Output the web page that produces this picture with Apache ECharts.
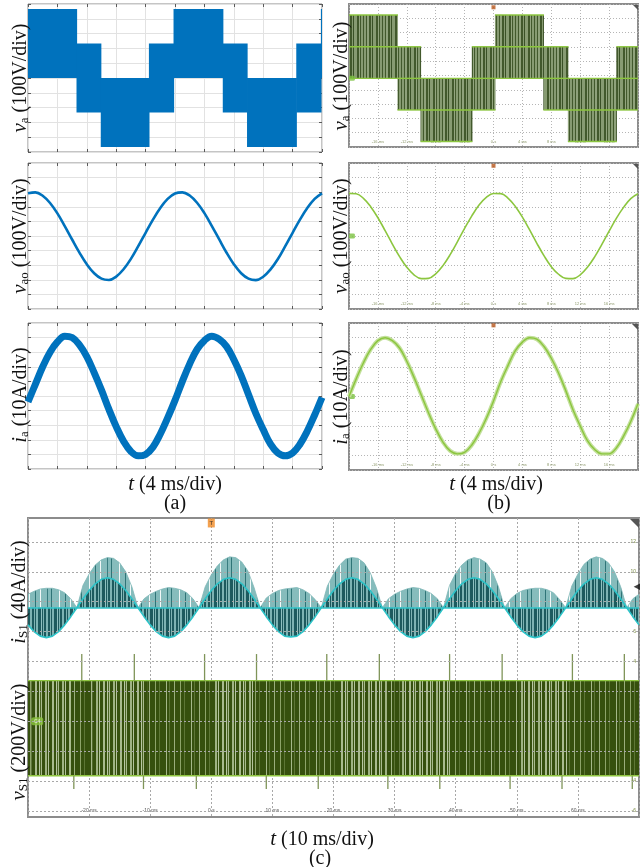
<!DOCTYPE html>
<html lang="en">
<head>
<meta charset="UTF-8" />
<title>Five-level inverter waveforms</title>
<style>
  * { margin: 0; padding: 0; box-sizing: border-box; }
  html, body { background: #fff; }
  #chart { width: 640px; height: 867px; }
</style>
</head>
<body>
<div id="chart"></div>
<script src="https://cdn.jsdelivr.net/npm/echarts@6/dist/echarts.min.js"></script>
<script>
var SERIF = '"Liberation Serif", "DejaVu Serif", serif';

// ---- (a) simulation, t in ms (4 ms/div) ----
var T_A = [0, 1, 2, 3, 4, 5, 6, 7, 8, 9, 10, 11, 12, 13, 14, 15, 16, 17, 18, 19, 20,
  21, 22, 23, 24, 25, 26, 27, 28, 29, 30, 31, 32, 33, 34, 35, 36, 37, 38, 39, 40];
// switching band of v_a: edges (ms), lower / upper level (V)
var VA_A_EDGES = [0, 6.6, 9.9, 16.45, 19.8, 26.5, 29.8, 36.5, 39.85, 40];
var VA_A_LO = [0, -233, -466, -233, 0, -233, -466, -233, 0];
var VA_A_HI = [466, 233, 0, 233, 466, 233, 0, 233, 466];
var VAO_A = [293, 299, 276, 226, 155, 68, -24, -114, -194, -255, -292, -301, -278, -228, -157, -70, 22, 112, 192, 254, 291,
  299, 277, 228, 157, 70, -22, -113, -193, -255, -292, -302, -279, -229, -158, -70, 22, 112, 192, 254, 292];
var IA_A = [-4, 8, 20, 30, 37, 41, 40, 35, 27, 16, 4, -9, -21, -31, -38, -41, -40, -35, -26, -15, -3,
  10, 22, 32, 38, 41, 39, 34, 25, 14, 1, -12, -23, -33, -39, -41, -39, -33, -24, -13, -1];

// ---- (b) experiment, t in ms (4 ms/div) ----
var T_B = [-20, -19, -18, -17, -16, -15, -14, -13, -12, -11, -10, -9, -8, -7, -6, -5, -4, -3, -2, -1, 0,
  1, 2, 3, 4, 5, 6, 7, 8, 9, 10, 11, 12, 13, 14, 15, 16, 17, 18, 19, 20];
var VA_B_EDGES = [-20, -13.3, -10.1, -3.0, 0.2, 6.9, 10.3, 17.0, 20];
var VA_B_LO = [-20, -241, -462, -241, -20, -241, -462, -241];
var VA_B_HI = [423, 201, -20, 201, 423, 201, -20, 201];
var VAO_B = [292, 289, 258, 201, 125, 37, -55, -141, -214, -266, -292, -290, -259, -203, -128, -40, 52, 138, 212, 264, 291,
  290, 260, 204, 129, 42, -50, -136, -210, -262, -290, -292, -266, -214, -143, -58, 33, 121, 196, 256, 289];
var IA_B = [0, 12, 23, 32, 38, 40, 38, 33, 24, 13, 1, -11, -22, -31, -37, -39, -38, -33, -25, -15, -3,
  10, 21, 31, 37, 40, 39, 34, 26, 16, 4, -9, -20, -30, -36, -39, -39, -35, -27, -17, -5];

// ---- (c) switch S1, t in ms (10 ms/div) ----
var T_C = [-30, -29, -28, -27, -26, -25, -24, -23, -22,
  -21, -20, -19, -18, -17, -16, -15, -14, -13, -12,
  -11, -10, -9, -8, -7, -6, -5, -4, -3, -2,
  -1, 0, 1, 2, 3, 4, 5, 6, 7, 8,
  9, 10, 11, 12, 13, 14, 15, 16, 17, 18,
  19, 20, 21, 22, 23, 24, 25, 26, 27, 28,
  29, 30, 31, 32, 33, 34, 35, 36, 37, 38,
  39, 40, 41, 42, 43, 44, 45, 46, 47, 48,
  49, 50, 51, 52, 53, 54, 55, 56, 57, 58,
  59, 60, 61, 62, 63, 64, 65, 66, 67, 68,
  69, 70];
// pulse peaks of i_S1 (A)
var IS1_PEAK = [18, 22, 25, 26, 26, 24, 20, 12, 0,
  30, 45, 57, 64, 67, 66, 60, 48, 28, 0,
  12, 18, 22, 25, 27, 26, 24, 20, 12, 0,
  28, 44, 56, 64, 68, 67, 61, 49, 27, 0,
  13, 19, 23, 25, 26, 27, 24, 19, 11, 0,
  29, 45, 57, 65, 67, 66, 60, 47, 27, 0,
  12, 18, 22, 25, 27, 26, 23, 19, 12, 0,
  30, 46, 57, 64, 67, 65, 60, 48, 28, 0,
  12, 19, 23, 25, 26, 26, 24, 20, 11, 0,
  29, 45, 58, 65, 68, 66, 60, 48, 28, 0,
  12, 18];
// averaged (cyan) trace of i_S1 (A)
var IS1_AVG = [-23, -32, -38, -40, -38, -32, -23, -12, 0,
  12, 23, 32, 38, 40, 38, 32, 23, 12, 0,
  -12, -23, -32, -38, -40, -38, -32, -23, -12, 0,
  12, 23, 32, 38, 40, 38, 32, 23, 12, 0,
  -12, -23, -32, -38, -39, -38, -32, -23, -12, 0,
  12, 23, 32, 38, 40, 38, 32, 23, 12, 0,
  -12, -23, -32, -38, -40, -38, -32, -23, -12, 0,
  12, 23, 32, 38, 40, 38, 32, 23, 12, 0,
  -12, -23, -32, -38, -40, -38, -32, -23, -12, 0,
  12, 23, 32, 38, 40, 38, 32, 23, 12, 0,
  -12, -23];
var VS1_LO = -364, VS1_HI = 272;
// stretches where the v_S1 pulses look sparse (lighter), ms
var VS1_LIGHT = [[-29.4, -22.8], [-19.4, -10.6], [0.2, 6.8], [21.0, 28.7], [30.8, 39.4], [50.4, 58.1]];
var SPIKE_UP_T = [-21.2, -12.6, -1.1, 7.4, 18.9, 27.5, 39.0, 47.6, 59.1, 67.6];
var SPIKE_DN_T = [-22.5, -11.1, -2.45, 9.0, 17.5, 28.9, 37.4, 48.9, 57.4, 68.9];
var SPIKE_UP_V = 450, SPIKE_DN_V = -453;
var C_DIV_LABELS = [12, 10, 8, 6, 4, 2, 0, -2, -4, -6];

function zip(xs, ys) { return xs.map(function (x, i) { return [x, ys[i]]; }); }
function segs(edges, lo, hi) { return lo.map(function (l, i) { return [edges[i], edges[i + 1], l, hi[i]]; }); }
function msText(v) { return v === 0 ? '0 s' : v + ' ms'; }

function stripes(parts) {
  var w = 0;
  parts.forEach(function (p) { w += p[1]; });
  var c = document.createElement('canvas');
  c.width = w; c.height = 8;
  var g = c.getContext('2d'), x = 0;
  parts.forEach(function (p) { g.fillStyle = p[0]; g.fillRect(x, 0, p[1], 8); x += p[1]; });
  return {image: c, repeat: 'repeat'};
}

var olive = stripes([['#879b72', 2], ['#42592c', 1], ['#879b72', 2], ['#42592c', 1], ['#8fa27b', 2], ['#42592c', 2],
  ['#879b72', 1], ['#3a5126', 1], ['#879b72', 3], ['#42592c', 2], ['#93a57f', 1], ['#42592c', 1]]);
var tealLight = stripes([['#82baba', 5], ['#2f7477', 1], ['#82baba', 4], ['#f2f8f8', 1], ['#86bcbc', 6], ['#3a7d80', 1],
  ['#82baba', 3], ['#2f7477', 1], ['#86bcbc', 7], ['#f2f8f8', 1]]);
var tealDark = stripes([['#1d5a5e', 2], ['#7db3b3', 1], ['#1d5a5e', 1], ['#7db3b3', 2], ['#1d5a5e', 3], ['#8fc1c1', 1],
  ['#1d5a5e', 1], ['#7db3b3', 1], ['#1d5a5e', 2], ['#7db3b3', 2]]);
var vDark = stripes([['#36500e', 5], ['#8ea46a', 1], ['#36500e', 3], ['#5d7636', 1], ['#36500e', 6], ['#a5b889', 1],
  ['#36500e', 2], ['#5d7636', 1], ['#36500e', 4], ['#9aae7c', 1]]);
var vLight = stripes([['#36500e', 1], ['#a9bb8e', 2], ['#36500e', 2], ['#b8c7a2', 1], ['#4a6424', 1], ['#a9bb8e', 1],
  ['#36500e', 3], ['#9fb383', 2], ['#36500e', 1], ['#b3c39c', 1], ['#36500e', 2]]);

function bandItem(fill, edge, mid) {
  return function (params, api) {
    var p0 = api.coord([api.value(0), api.value(3)]);
    var p1 = api.coord([api.value(1), api.value(2)]);
    var kids = [{type: 'rect', shape: {x: p0[0], y: p0[1], width: p1[0] - p0[0] + 0.6, height: p1[1] - p0[1]},
      style: {fill: fill}}];
    if (edge) {
      var ys = [p0[1], p1[1]];
      if (mid) ys.push(api.coord([api.value(0), (api.value(2) + api.value(3)) / 2])[1]);
      ys.forEach(function (y) {
        kids.push({type: 'line', shape: {x1: p0[0], y1: y, x2: p1[0] + 0.6, y2: y},
          style: {stroke: edge, lineWidth: 1.4}});
      });
    }
    return {type: 'group', children: kids};
  };
}
function spikeItem(params, api) {
  var a = api.coord([api.value(0), api.value(1)]);
  var b = api.coord([api.value(0), api.value(2)]);
  return {type: 'line', shape: {x1: a[0], y1: a[1], x2: b[0], y2: b[1]}, style: {stroke: '#7f9458', lineWidth: 1.3}};
}

var grids = [
  {left: 28, top: 4, width: 294, height: 148},
  {left: 28, top: 163, width: 294, height: 146},
  {left: 28, top: 323, width: 294, height: 146},
  {left: 349, top: 4, width: 289, height: 143},
  {left: 349, top: 163, width: 289, height: 146},
  {left: 349, top: 323, width: 289, height: 147},
  {left: 28, top: 518, width: 611, height: 299}
].map(function (g, i) {
  g.show = true; g.containLabel = false; g.outerBoundsMode = 'none';
  g.backgroundColor = '#fff';
  g.borderColor = i < 3 ? '#8a8a8a' : '#8c8c8c';
  g.borderWidth = i < 3 ? 1 : 2;
  return g;
});

var xAxes = [], yAxes = [], series = [];
var OFF = {show: false};
var NOLINE = {show: false, onZero: false};

function matlabAxes(gi, yMin, yMax, yStep) {
  var tick = {show: true, inside: true, length: 3, lineStyle: {color: '#5a5a5a'}};
  var grid = {show: true, lineStyle: {color: '#e2e2e2', width: 1}};
  var r = {x: xAxes.length, y: yAxes.length};
  xAxes.push({gridIndex: gi, type: 'value', min: 0, max: 40, interval: 4, position: 'bottom',
    axisLine: NOLINE, axisTick: tick, axisLabel: OFF, splitLine: grid});
  xAxes.push({gridIndex: gi, type: 'value', min: 0, max: 40, interval: 4, position: 'top',
    axisLine: NOLINE, axisTick: tick, axisLabel: OFF, splitLine: OFF});
  yAxes.push({gridIndex: gi, type: 'value', min: yMin, max: yMax, interval: yStep, position: 'left',
    axisLine: NOLINE, axisTick: tick, axisLabel: OFF, splitLine: grid});
  yAxes.push({gridIndex: gi, type: 'value', min: yMin, max: yMax, interval: yStep, position: 'right',
    axisLine: NOLINE, axisTick: tick, axisLabel: OFF, splitLine: OFF});
  return r;
}

function scopeAxes(gi, yMin, yMax, yStep) {
  var dotted = {show: true, lineStyle: {color: '#b5b5b5', width: 1, type: [1, 2]}};
  var r = {x: xAxes.length, y: yAxes.length};
  xAxes.push({gridIndex: gi, type: 'value', min: -20, max: 20, interval: 4, position: 'bottom',
    axisLine: NOLINE, axisTick: OFF, splitLine: dotted,
    axisLabel: {inside: true, margin: 3, fontSize: 4, color: '#8e9a6c', showMinLabel: false, showMaxLabel: false, formatter: msText}});
  yAxes.push({gridIndex: gi, type: 'value', min: yMin, max: yMax, interval: yStep, position: 'left',
    axisLine: NOLINE, axisTick: OFF, axisLabel: OFF, splitLine: dotted});
  return r;
}

// ----- (a) -----
var a1 = matlabAxes(0, -500, 500, 100);
var a2 = matlabAxes(1, -500, 500, 100);
var a3 = matlabAxes(2, -50, 50, 10);
series.push({type: 'custom', xAxisIndex: a1.x, yAxisIndex: a1.y, clip: true, silent: true,
  encode: {x: [0, 1], y: [2, 3]}, renderItem: bandItem('#0072bd'), data: segs(VA_A_EDGES, VA_A_LO, VA_A_HI)});
series.push({type: 'line', xAxisIndex: a2.x, yAxisIndex: a2.y, data: zip(T_A, VAO_A), smooth: 0.4,
  symbol: 'none', lineStyle: {color: '#0072bd', width: 2.6}});
series.push({type: 'line', xAxisIndex: a3.x, yAxisIndex: a3.y, data: zip(T_A, IA_A), smooth: 0.4,
  symbol: 'none', lineStyle: {color: '#0072bd', width: 7}});

// ----- (b) -----
var b1 = scopeAxes(3, -500, 500, 100);
var b2 = scopeAxes(4, -500, 500, 100);
var b3 = scopeAxes(5, -50, 50, 10);
series.push({type: 'custom', xAxisIndex: b1.x, yAxisIndex: b1.y, clip: true, silent: true,
  encode: {x: [0, 1], y: [2, 3]}, renderItem: bandItem(olive, '#8cc63f', true), data: segs(VA_B_EDGES, VA_B_LO, VA_B_HI)});
series.push({type: 'line', xAxisIndex: b2.x, yAxisIndex: b2.y, data: zip(T_B, VAO_B), smooth: 0.4,
  symbol: 'none', lineStyle: {color: '#8cc63f', width: 1.6}});
series.push({type: 'line', xAxisIndex: b3.x, yAxisIndex: b3.y, data: zip(T_B, IA_B), smooth: 0.4,
  symbol: 'none', lineStyle: {color: '#c3e09c', width: 4}});
series.push({type: 'line', xAxisIndex: b3.x, yAxisIndex: b3.y, data: zip(T_B, IA_B), smooth: 0.4,
  symbol: 'none', lineStyle: {color: '#8cc63f', width: 1.4}});
// scope markers (trigger dot at top, channel ground at left)
[[b1, 477, -20], [b2, 481, 0], [b3, 48.4, 0]].forEach(function (m) {
  series.push({type: 'scatter', xAxisIndex: m[0].x, yAxisIndex: m[0].y, silent: true, clip: false,
    data: [{value: [0, m[1]], symbol: 'rect', symbolSize: [4, 4], itemStyle: {color: '#b8561b'}},
      {value: [-19.6, m[2]], symbol: 'roundRect', symbolSize: [6, 5], itemStyle: {color: '#7cc241'}}]});
});

// ----- (c) -----
var cx = xAxes.length;
xAxes.push({gridIndex: 6, type: 'value', min: -30, max: 70, interval: 10, position: 'bottom', axisLine: NOLINE, axisTick: OFF,
  axisLabel: {inside: true, margin: 4, fontSize: 5, color: '#555', showMinLabel: false, showMaxLabel: false, formatter: msText},
  splitLine: {show: true, lineStyle: {color: '#a8a8a8', type: [2, 2]}}});
var cyDiv = yAxes.length;
yAxes.push({gridIndex: 6, type: 'value', min: -6.4, max: 13.6, position: 'right', axisLine: NOLINE, axisTick: OFF,
  axisLabel: {inside: true, margin: 3, fontSize: 5, color: '#7b8a45', customValues: C_DIV_LABELS}, splitLine: OFF});
var cyI = yAxes.length;
yAxes.push({gridIndex: 6, type: 'value', min: -280, max: 120, show: false, axisLine: NOLINE});
var cyV = yAxes.length;
yAxes.push({gridIndex: 6, type: 'value', min: -640, max: 1360, show: false, axisLine: NOLINE});

series.push({type: 'line', xAxisIndex: cx, yAxisIndex: cyDiv, data: [[-30, -6.4]], symbol: 'none', silent: true,
  lineStyle: {opacity: 0},
  markLine: {silent: true, symbol: 'none', animation: false, label: {show: false},
    lineStyle: {color: '#a8a8a8', type: [2, 2], width: 1},
    data: C_DIV_LABELS.map(function (v) { return {yAxis: v}; })}});
series.push({type: 'line', xAxisIndex: cx, yAxisIndex: cyI, data: zip(T_C, IS1_PEAK), symbol: 'none',
  lineStyle: {color: '#7fb7b7', width: 0.8}, areaStyle: {color: tealLight, opacity: 1}});
series.push({type: 'line', xAxisIndex: cx, yAxisIndex: cyI, data: zip(T_C, IS1_AVG), symbol: 'none',
  lineStyle: {color: '#2cc3c8', width: 1.6}, areaStyle: {color: tealDark, opacity: 1},
  markLine: {silent: true, symbol: 'none', animation: false, label: {show: false},
    lineStyle: {color: '#2cc3c8', width: 1.6, type: 'solid'}, data: [{yAxis: 0}]}});
series.push({type: 'custom', xAxisIndex: cx, yAxisIndex: cyV, clip: true, silent: true,
  encode: {x: [0, 1], y: [2, 3]}, renderItem: bandItem(vDark, null, false), data: [[-30, 70, VS1_LO, VS1_HI]]});
series.push({type: 'custom', xAxisIndex: cx, yAxisIndex: cyV, clip: true, silent: true,
  encode: {x: [0, 1], y: [2, 3]}, renderItem: bandItem(vLight, null, false),
  data: VS1_LIGHT.map(function (z) { return [z[0], z[1], VS1_LO, VS1_HI]; })});
series.push({type: 'custom', xAxisIndex: cx, yAxisIndex: cyV, clip: true, silent: true,
  encode: {x: [0, 1], y: [2, 3]}, renderItem: bandItem('rgba(0,0,0,0)', '#8fc640', false), data: [[-30, 70, VS1_LO, VS1_HI]]});
series.push({type: 'custom', xAxisIndex: cx, yAxisIndex: cyV, clip: true, silent: true,
  encode: {x: 0, y: [1, 2]}, renderItem: spikeItem,
  data: SPIKE_UP_T.map(function (t) { return [t, VS1_HI, SPIKE_UP_V]; })
    .concat(SPIKE_DN_T.map(function (t) { return [t, VS1_LO, SPIKE_DN_V]; }))});
series.push({type: 'scatter', xAxisIndex: cx, yAxisIndex: cyDiv, silent: true, clip: false,
  data: [{value: [0, 13.27], symbol: 'rect', symbolSize: [7, 9], itemStyle: {color: '#f08a24'},
      label: {show: true, position: 'inside', formatter: 'T', fontSize: 6, color: '#222'}},
    {value: [69.7, 9.0], symbol: 'triangle', symbolRotate: 90, symbolSize: 7, itemStyle: {color: '#111'}}]});
series.push({type: 'scatter', xAxisIndex: cx, yAxisIndex: cyI, silent: true, clip: false,
  data: [{value: [-28.5, 0], symbol: 'roundRect', symbolSize: [12, 7], itemStyle: {color: '#e8f7f7', borderColor: '#34b9bd', borderWidth: 1},
    label: {show: true, position: 'inside', formatter: 'C2', fontSize: 5, color: '#333'}}]});
series.push({type: 'scatter', xAxisIndex: cx, yAxisIndex: cyV, silent: true, clip: false,
  data: [{value: [-28.5, 0], symbol: 'roundRect', symbolSize: [12, 8], itemStyle: {color: '#8cc63f'},
    label: {show: true, position: 'inside', formatter: 'C4', fontSize: 5, color: '#fff'}}]});

// ----- text -----
var RICH = {
  m: {fontFamily: SERIF, fontStyle: 'italic', fontSize: 21, lineHeight: 24, verticalAlign: 'bottom', fill: '#111'},
  s: {fontFamily: SERIF, fontSize: 13, lineHeight: 9, verticalAlign: 'bottom', fill: '#111'},
  u: {fontFamily: SERIF, fontSize: 20, lineHeight: 24, verticalAlign: 'bottom', fill: '#111'}
};
function yName(x, y, sym, sub, unit) {
  return {type: 'text', x: x, y: y, rotation: Math.PI / 2, silent: true, z: 100,
    style: {text: '{m|' + sym + '}{s|' + sub + '}{u| ' + unit + '}', rich: RICH,
      align: 'center', verticalAlign: 'middle'}};
}
function plain(x, y, txt) {
  return {type: 'text', x: x, y: y, silent: true, z: 100,
    style: {text: txt, rich: RICH, align: 'center', verticalAlign: 'middle'}};
}
function corner(x, y, s) {
  return {type: 'polygon', silent: true, z: 100, shape: {points: [[x - s, y], [x, y], [x, y + s]]}, style: {fill: '#555'}};
}

var graphic = [
  yName(19, 78, 'v', 'a', '(100V/div)'),
  yName(19, 236, 'v', 'ao', '(100V/div)'),
  yName(19, 395, 'i', 'a', '(10A/div)'),
  yName(340, 76, 'v', 'a', '(100V/div)'),
  yName(340, 236, 'v', 'ao', '(100V/div)'),
  yName(340, 397, 'i', 'a', '(10A/div)'),
  yName(18, 592, 'i', 'S1', '(40A/div)'),
  yName(18, 742, 'v', 'S1', '(200V/div)'),
  plain(175, 483, '{m|t}{u| (4 ms/div)}'),
  plain(175, 502, '{u|(a)}'),
  plain(496, 483, '{m|t}{u| (4 ms/div)}'),
  plain(499, 502, '{u|(b)}'),
  plain(322, 838, '{m|t}{u| (10 ms/div)}'),
  plain(320, 857, '{u|(c)}'),
  corner(638, 5, 5), corner(638, 164, 5), corner(638, 324, 6), corner(639, 519, 9)
];

var chart = echarts.init(document.getElementById('chart'));
chart.setOption({
  animation: false,
  grid: grids,
  xAxis: xAxes,
  yAxis: yAxes,
  series: series,
  graphic: graphic
});
</script>
</body>
</html>
